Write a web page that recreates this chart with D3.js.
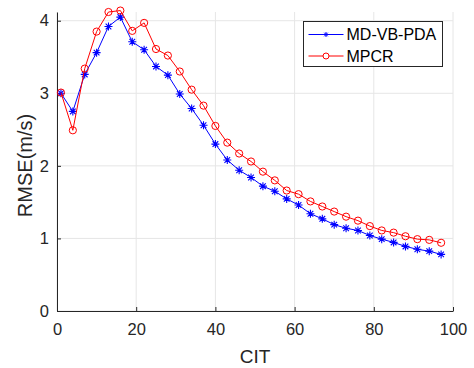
<!DOCTYPE html>
<html>
<head>
<meta charset="utf-8">
<script src="https://cdn.jsdelivr.net/npm/d3@7"></script>
<style>
  body { margin: 0; background: #fff; }
  svg { display: block; font-family: "Liberation Sans", Arial, sans-serif; }
</style>
</head>
<body>
<div id="chart"></div>
<script>
// Chart data.
const cit = [1, 4, 7, 10, 13, 16, 19, 22, 25, 28, 31, 34, 37, 40, 43, 46, 49,
  52, 55, 58, 61, 64, 67, 70, 73, 76, 79, 82, 85, 88, 91, 94, 97];
const mdvbpda = [3.00, 2.75, 3.26, 3.56, 3.92, 4.05, 3.71, 3.60, 3.37, 3.25, 2.99,
  2.79, 2.56, 2.30, 2.08, 1.94, 1.84, 1.72, 1.65, 1.545, 1.46, 1.34, 1.27, 1.19,
  1.14, 1.11, 1.04, 0.99, 0.945, 0.89, 0.85, 0.825, 0.78];
const mpcr = [3.01, 2.49, 3.34, 3.85, 4.12, 4.14, 3.86, 3.97, 3.61, 3.52, 3.30,
  3.05, 2.83, 2.55, 2.32, 2.17, 2.06, 1.92, 1.80, 1.66, 1.61, 1.51, 1.44, 1.37,
  1.30, 1.245, 1.17, 1.11, 1.08, 1.03, 0.99, 0.98, 0.94];
const xTicks = [0, 20, 40, 60, 80, 100];
const yTicks = [0, 1, 2, 3, 4];
const seriesNames = ["MD-VB-PDA", "MPCR"];

const width = 474, height = 368;
const margin = { top: 12, right: 21, bottom: 57, left: 57 };
const axisColor = "#262626";

const svg = d3.select("#chart").append("svg")
  .attr("width", width)
  .attr("height", height);

const x = d3.scaleLinear().domain([0, 100]).range([margin.left, width - margin.right]);
const y = d3.scaleLinear().domain([0, 4.12]).range([height - margin.bottom, margin.top]);

// Grid lines.
svg.append("g")
  .selectAll("line.gx")
  .data(xTicks)
  .join("line")
    .attr("x1", d => x(d)).attr("x2", d => x(d))
    .attr("y1", y(0)).attr("y2", y(4.12))
    .attr("stroke", "#e6e6e6").attr("stroke-width", 1);

svg.append("g")
  .selectAll("line.gy")
  .data(yTicks)
  .join("line")
    .attr("x1", x(0)).attr("x2", x(100))
    .attr("y1", d => y(d)).attr("y2", d => y(d))
    .attr("stroke", "#e6e6e6").attr("stroke-width", 1);

// Axes, MATLAB style with inward ticks.
const xAxis = svg.append("g")
  .attr("transform", `translate(0,${y(0)})`)
  .call(d3.axisBottom(x).tickValues(xTicks).tickFormat(d3.format("d"))
    .tickSize(-4).tickPadding(12).tickSizeOuter(0));

const yAxis = svg.append("g")
  .attr("transform", `translate(${x(0)},0)`)
  .call(d3.axisLeft(y).tickValues(yTicks).tickFormat(d3.format("d"))
    .tickSize(-4).tickPadding(8).tickSizeOuter(0));

[xAxis, yAxis].forEach(g => {
  g.select(".domain").attr("stroke", axisColor);
  g.selectAll(".tick line").attr("stroke", axisColor);
  g.selectAll(".tick text")
    .attr("fill", axisColor)
    .attr("font-size", 16.5)
    .attr("font-family", "Liberation Sans, Arial, sans-serif");
});
xAxis.selectAll(".tick text").attr("dy", "0.71em");

// Axis labels.
svg.append("text")
  .attr("x", x(50)).attr("y", 363)
  .attr("text-anchor", "middle")
  .attr("fill", axisColor)
  .attr("font-size", 19)
  .text("CIT");

svg.append("text")
  .attr("transform", `translate(32,${(y(0) + y(4.12)) / 2 + 4}) rotate(-90)`)
  .attr("text-anchor", "middle")
  .attr("fill", axisColor)
  .attr("font-size", 20)
  .text("RMSE(m/s)");

const line = d3.line()
  .x((d, i) => x(cit[i]))
  .y(d => y(d));

// Star marker path ('*' in MATLAB).
function star(s) {
  const r = s / 2, k = r * 0.7071;
  return `M${-r},0H${r}M0,${-r}V${r}M${-k},${-k}L${k},${k}M${-k},${k}L${k},${-k}`;
}

// MD-VB-PDA, blue with stars.
svg.append("path")
  .datum(mdvbpda)
  .attr("fill", "none")
  .attr("stroke", "#0000ff")
  .attr("stroke-width", 1)
  .attr("d", line);

svg.append("g")
  .selectAll("path")
  .data(mdvbpda)
  .join("path")
    .attr("transform", (d, i) => `translate(${x(cit[i])},${y(d)})`)
    .attr("d", star(8))
    .attr("stroke", "#0000ff")
    .attr("stroke-width", 1.1)
    .attr("fill", "none");

// MPCR, red with circles.
svg.append("path")
  .datum(mpcr)
  .attr("fill", "none")
  .attr("stroke", "#ff0000")
  .attr("stroke-width", 1)
  .attr("d", line);

svg.append("g")
  .selectAll("circle")
  .data(mpcr)
  .join("circle")
    .attr("cx", (d, i) => x(cit[i]))
    .attr("cy", d => y(d))
    .attr("r", 3.6)
    .attr("stroke", "#ff0000")
    .attr("stroke-width", 1)
    .attr("fill", "none");

// Legend.
const legend = svg.append("g").attr("transform", "translate(303.5,21.5)");
legend.append("rect")
  .attr("width", 139).attr("height", 45)
  .attr("fill", "#fff")
  .attr("stroke", axisColor)
  .attr("stroke-width", 1);

const colors = ["#0000ff", "#ff0000"];
seriesNames.forEach((name, i) => {
  const ly = 13 + i * 21.5;
  legend.append("line")
    .attr("x1", 5).attr("x2", 40)
    .attr("y1", ly).attr("y2", ly)
    .attr("stroke", colors[i]);
  if (i === 0) {
    legend.append("path")
      .attr("transform", `translate(22.5,${ly})`)
      .attr("d", star(5))
      .attr("stroke", colors[i]);
  } else {
    legend.append("circle")
      .attr("cx", 22.5).attr("cy", ly).attr("r", 3)
      .attr("fill", "#fff")
      .attr("stroke", colors[i]);
  }
  legend.append("text")
    .attr("x", 43).attr("y", ly)
    .attr("dy", "0.36em")
    .attr("fill", "#000")
    .attr("font-size", 16)
    .text(name);
});
</script>
</body>
</html>
